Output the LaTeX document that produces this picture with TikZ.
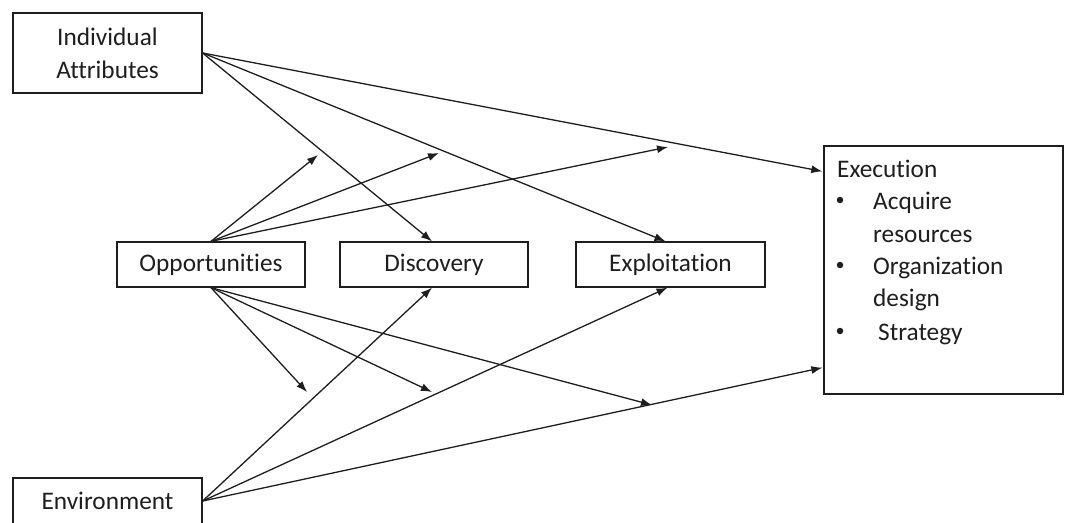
\documentclass[tikz,border=0pt]{standalone}
\usepackage{fontspec}
\setmainfont[Ligatures=NoCommon]{Carlito}
\usetikzlibrary{arrows.meta,calc}
\definecolor{ink}{HTML}{1E1E1E}
\begin{document}
\begin{tikzpicture}[x=1pt,y=-1pt,
  box/.style={draw=ink, line width=1.3pt, inner sep=0pt, text=ink,
    font=\fontsize{25.3}{33}\selectfont, align=center},
  txt/.style={anchor=base west, inner sep=0pt, text=ink, font=\fontsize{25.3}{33}\selectfont},
  bul/.style={circle, fill=ink, inner sep=0pt, minimum size=6.5pt},
  arr/.style={draw=ink, line width=1.3pt, -{Latex[length=11pt,width=8pt]}}]
\useasboundingbox (0,0) rectangle (1068,522);

\node[box, minimum width=189pt, minimum height=80pt] (ia) at (107.5,53) {Individual\\Attributes};
\node[box, minimum width=188pt, minimum height=45pt] (opp) at (211,264.5) {Opportunities};
\node[box, minimum width=188pt, minimum height=45pt] (disc) at (434,264.5) {Discovery};
\node[box, minimum width=189pt, minimum height=45pt] (expl) at (670.5,264.5) {Exploitation};
\node[box, minimum width=189pt, minimum height=46pt] (env) at (107.5,501) {Environment};
\node[box, minimum width=239pt, minimum height=248pt] (exec) at (943.5,270) {};

\node[txt] (t0) at (837,177) {Execution};
\node[bul] (b1) at (840,200) {};
\node[txt] (t1) at (873,209) {Acquire};
\node[txt] (t2) at (873,242) {resources};
\node[bul] (b2) at (840,265) {};
\node[txt] (t3) at (873,274) {Organization};
\node[txt] (t4) at (873,306) {design};
\node[bul] (b3) at (840,331) {};
\node[txt] (t5) at (878,340) {Strategy};

% free ends of the moderating arrows
\coordinate (m1) at (318,155);
\coordinate (m2) at (439,153);
\coordinate (m3) at (668,147);
\coordinate (m4) at (307,392);
\coordinate (m5) at (432,392);
\coordinate (m6) at (652,405);

% Individual attributes
\draw[arr] (ia.east) -- ($(exec.north west)+(-1,26)$);
\draw[arr] (ia.east) -- ([xshift=-2pt]disc.north);
\draw[arr] (ia.east) -- ([xshift=-5pt]expl.north);

% Environment
\draw[arr] (env.east) -- ([xshift=-2pt]disc.south);
\draw[arr] (env.east) -- ([xshift=-3pt]expl.south);
\draw[arr] (env.east) -- ($(exec.south west)+(-1,-27)$);

% Opportunities
\draw[arr] (opp.north) -- (m1);
\draw[arr] (opp.north) -- (m2);
\draw[arr] (opp.north) -- (m3);
\draw[arr] (opp.south) -- (m4);
\draw[arr] (opp.south) -- (m5);
\draw[arr] (opp.south) -- (m6);
\end{tikzpicture}
\end{document}
